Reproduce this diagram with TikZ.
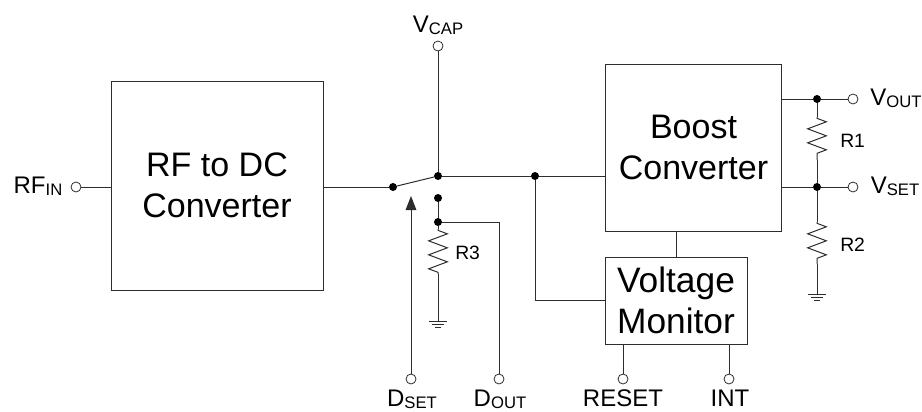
\documentclass[tikz,border=0pt]{standalone}
\usepackage{fontspec}
\setmainfont{Liberation Sans}
\usetikzlibrary{decorations.pathmorphing, arrows.meta, calc}
\definecolor{wire1}{RGB}{45, 45, 45}
\newcommand{\subtxt}[1]{\raisebox{-2.2pt}{\fontsize{12.5}{12.5}\selectfont #1}}
\tikzset{
  block/.style={draw=wire1, line width=0.75pt, minimum width=#1, align=center, inner sep=0pt},
  wire/.style={draw=wire1, line width=0.75pt},
  junction/.style={circle, fill=black, inner sep=0pt, minimum size=6pt},
  terminal/.style={circle, draw=wire1, line width=0.6pt, fill=white, inner sep=0pt, minimum size=7.5pt},
  pinlabel/.style={anchor=base, inner sep=0pt, font=\fontsize{18}{18}\selectfont},
  reslabel/.style={anchor=base west, inner sep=0pt, font=\fontsize{14.5}{14.5}\selectfont},
  resistor/.style={wire, decorate, decoration={zigzag, segment length=10.5pt, amplitude=7pt, pre length=1pt, post length=1pt}},
  earth/.style={wire, line width=0.6pt}
}
\begin{document}
\begin{tikzpicture}[x=0.75pt, y=-0.75pt]
  \useasboundingbox (0,0) rectangle (922,411);

  % blocks
  \node[block=159pt, minimum height=156.75pt, font=\fontsize{25.5}{31}\selectfont] (rfdc) at (217,185.5) {RF to DC\\Converter};
  \node[block=132pt, minimum height=125.25pt, font=\fontsize{25.5}{31}\selectfont] (boost) at (693.5,147.5) {Boost\\Converter};
  \node[block=106.5pt, minimum height=65.25pt, font=\fontsize{26.5}{31}\selectfont] (monitor) at (676,300.5) {Voltage\\Monitor};

  % terminals
  \node[terminal] (rfin) at (76,187) {};
  \node[terminal] (vcap) at (438,46) {};
  \node[terminal] (vout) at (853,99) {};
  \node[terminal] (vset) at (853,187) {};
  \node[terminal] (dset) at (411,379) {};
  \node[terminal] (dout) at (499,379) {};
  \node[terminal] (reset) at (623,379) {};
  \node[terminal] (int) at (729,379) {};

  % junctions
  \node[junction] (swin) at (393,187) {};
  \node[junction] (swout) at (438,176) {};
  \node[junction] (swoff) at (438,198) {};
  \node[junction] (dnode) at (438,222) {};
  \node[junction] (mnode) at (535,176) {};
  \node[junction] (onode) at (817,99) {};
  \node[junction] (snode) at (817,187) {};

  % resistor ends
  \coordinate (r3top) at (438,229);
  \coordinate (r3bot) at (438,274);
  \coordinate (gnd3) at (438,321);
  \coordinate (r1top) at (817,117);
  \coordinate (r1bot) at (817,160);
  \coordinate (r2top) at (817,222);
  \coordinate (r2bot) at (817,264);
  \coordinate (gnd2) at (817,294);

  % wires
  \draw[wire] (rfin) -- (rfdc.west |- rfin);
  \draw[wire] (rfdc.east |- swin) -- (swin);
  \draw[wire] (swin) -- (swout);
  \draw[wire] (vcap) -- (swout);
  \draw[wire] (swout) -- (mnode);
  \draw[wire] (mnode) -- (boost.west |- mnode);
  \draw[wire] (mnode) |- (monitor.west);
  \draw[wire] (swoff) -- (dnode);
  \draw[wire] (dnode) -| (dout);
  \draw[wire] (boost.south -| monitor) -- (monitor.north);
  \draw[wire] (monitor.south -| reset) -- (reset);
  \draw[wire] (monitor.south -| int) -- (int);
  \draw[wire] (boost.east |- onode) -- (onode);
  \draw[wire] (onode) -- (vout);
  \draw[wire] (boost.east |- snode) -- (snode);
  \draw[wire] (snode) -- (vset);
  \draw[wire, -{Triangle[length=10.5pt, width=8pt]}] (dset) -- (411,196);

  % resistors
  \draw[wire] (dnode) -- (r3top);
  \draw[resistor] (r3top) -- (r3bot);
  \draw[wire] (r3bot) -- (gnd3);
  \draw[wire] (onode) -- (r1top);
  \draw[resistor] (r1top) -- (r1bot);
  \draw[wire] (r1bot) -- (snode);
  \draw[wire] (snode) -- (r2top);
  \draw[resistor] (r2top) -- (r2bot);
  \draw[wire] (r2bot) -- (gnd2);

  % grounds
  \foreach \gnd in {gnd3, gnd2} {
    \draw[earth] ($(\gnd)+(-9,0)$) -- ($(\gnd)+(9,0)$);
    \draw[earth] ($(\gnd)+(-6,3)$) -- ($(\gnd)+(6,3)$);
    \draw[earth] ($(\gnd)+(-3,6)$) -- ($(\gnd)+(3,6)$);
  }

  % labels
  \node[pinlabel] (rfinlabel) at (38,193) {RF\subtxt{IN}};
  \node[pinlabel] (vcaplabel) at (438,32) {V\subtxt{CAP}};
  \node[pinlabel] (voutlabel) at (896,105) {V\subtxt{OUT}};
  \node[pinlabel] (vsetlabel) at (895,193) {V\subtxt{SET}};
  \node[pinlabel] (dsetlabel) at (412,406) {D\subtxt{SET}};
  \node[pinlabel] (doutlabel) at (500,406) {D\subtxt{OUT}};
  \node[pinlabel] (resetlabel) at (623,406) {RESET};
  \node[pinlabel] (intlabel) at (730,406) {INT};
  \node[reslabel] (r1label) at (840,147) {R1};
  \node[reslabel] (r2label) at (840,251) {R2};
  \node[reslabel] (r3label) at (455,259) {R3};
\end{tikzpicture}
\end{document}
